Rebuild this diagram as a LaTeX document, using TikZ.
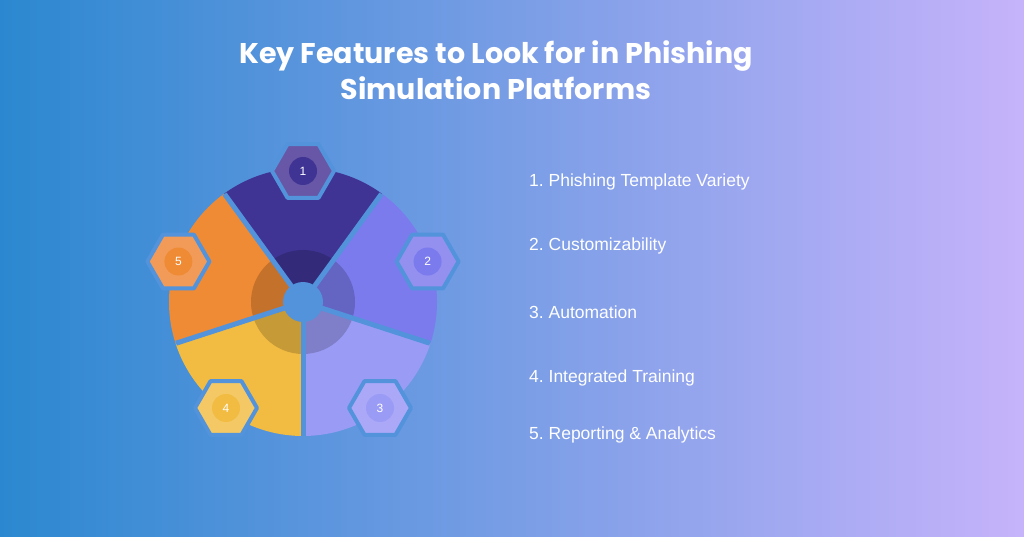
\documentclass[tikz,border=0pt]{standalone}
\usepackage{fontspec}
\setmainfont{Liberation Sans}
\newfontfamily\titlefont{Poppins}
\usetikzlibrary{calc}
\frenchspacing
\begin{document}
\begin{tikzpicture}[
    x=1pt, y=1pt,
    gapline/.style={line width=5pt, draw=bgmid},
    item/.style={anchor=west, text=white, font=\fontsize{17.5}{20}\selectfont, inner sep=0pt},
    hexnum/.style={text=white, font=\fontsize{12}{14}\selectfont},
]
\definecolor{bgleft}{HTML}{2B88D0}
\definecolor{bgright}{HTML}{C6B3FB}
\definecolor{bgmid}{HTML}{5293DB}
\definecolor{segA}{HTML}{3F3494}
\definecolor{segB}{HTML}{7B7BEE}
\definecolor{segC}{HTML}{9A9BF5}
\definecolor{segD}{HTML}{F2BC42}
\definecolor{segE}{HTML}{EF8A35}
\definecolor{hexA}{HTML}{6857A6}
\definecolor{hexB}{HTML}{9390F0}
\definecolor{hexC}{HTML}{ABA8F8}
\definecolor{hexD}{HTML}{F4C865}
\definecolor{hexE}{HTML}{F29B59}

% background
\shade[left color=bgleft, right color=bgright] (0,0) rectangle (1024,536);
\useasboundingbox (0,0) rectangle (1024,536);

% title
\node[text=white, font=\titlefont\bfseries\fontsize{28.5}{36}\selectfont, align=center] (title)
  at (496,466) {Key Features to Look for in Phishing\\Simulation Platforms};

\coordinate (c) at (303,234);

% wedges
\foreach \a/\col in {54/segA, -18/segB, -90/segC, 198/segD, 126/segE}
  \fill[\col] (c) -- ++(\a:134) arc[start angle=\a, end angle=\a+72, radius=134] -- cycle;

% darker inner ring and hub
\fill[black, opacity=.18] (c) circle (52);
\foreach \a in {54, -18, -90, 198, 126}
  \draw[gapline] (c) -- ++(\a:133.5);
\fill[bgmid] (c) circle (20);

% hexagon badges
\foreach \a/\hcol/\scol/\n in {90/hexA/segA/1, 18/hexB/segB/2, -54/hexC/segC/3, 234/hexD/segD/4, 162/hexE/segE/5}{
  \coordinate (h\n) at ($(c)+(\a:131)$);
  \filldraw[fill=\hcol, draw=bgmid, line width=4pt, line join=round]
    (h\n) ++(0:31) -- ++(120:31) -- ++(180:31) -- ++(240:31) -- ++(300:31) -- ++(0:31) -- cycle;
  \fill[\scol] (h\n) circle (14);
  \node[hexnum] (n\n) at (h\n) {\n};
}

% list
\node[item] (i1) at (529,354) {1. Phishing Template Variety};
\node[item] (i2) at (529,290) {2. Customizability};
\node[item] (i3) at (529,224) {3. Automation};
\node[item] (i4) at (529,158) {4. Integrated Training};
\node[item] (i5) at (529,101) {5. Reporting \& Analytics};

\end{tikzpicture}
\end{document}
